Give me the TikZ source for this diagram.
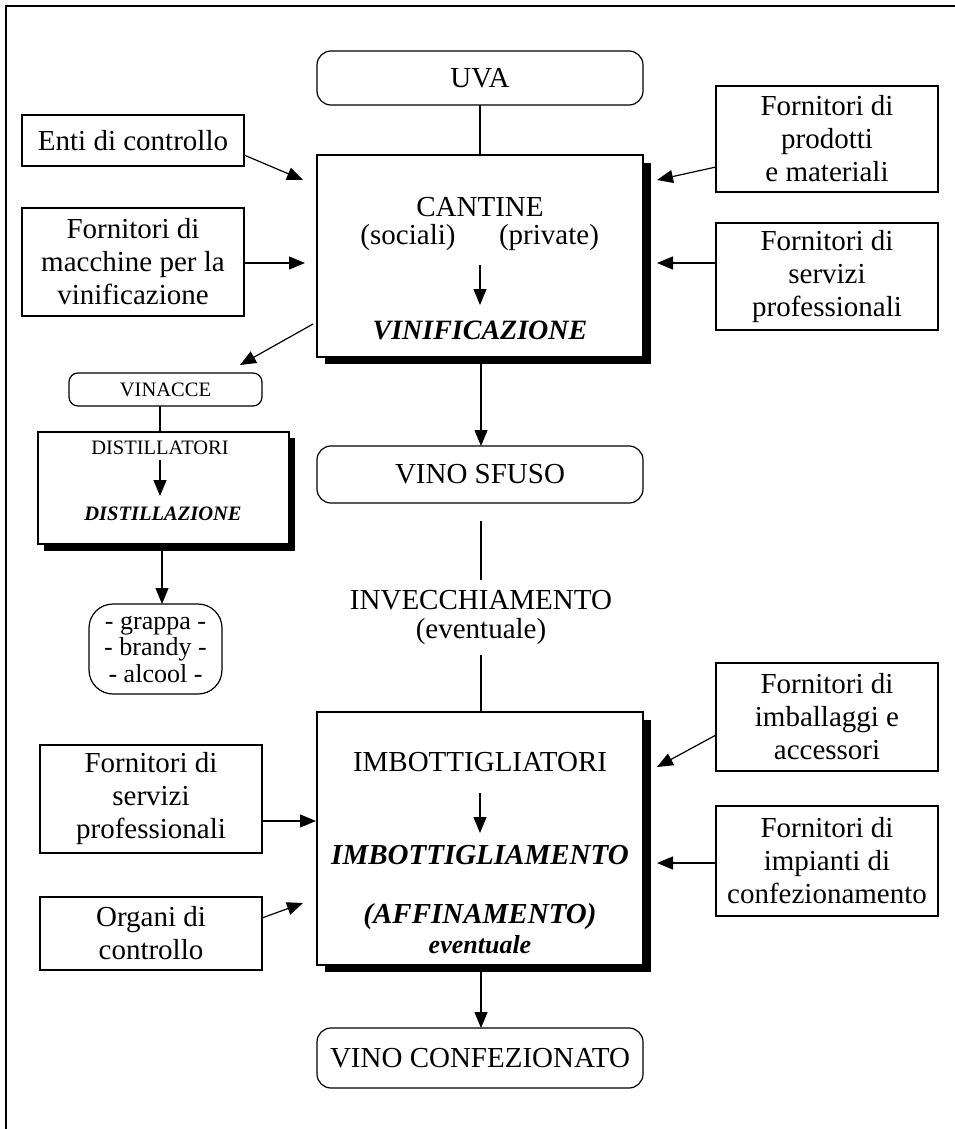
\documentclass[tikz,border=0pt]{standalone}
\usepackage{fontspec}
\setmainfont{Liberation Serif}
\usetikzlibrary{arrows.meta}
\begin{document}
\begin{tikzpicture}[x=1pt,y=-1pt,
  every node/.style={inner sep=0pt, outer sep=0pt},
  txt/.style={font=\fontsize{29}{33}\selectfont, align=center},
  small/.style={font=\fontsize{20.5}{24}\selectfont, align=center},
  boxsq/.style={draw, line width=1.2pt, fill=white, txt},
  boxrnd/.style={draw, line width=1.2pt, rounded corners=14pt, fill=white, txt},
  mainbox/.style={draw, line width=1.2pt, fill=white, minimum width=326pt},
  link/.style={line width=1.2pt},
  arr/.style={line width=1.2pt, -{Triangle[length=16pt,width=13pt]}},
  shadowfill/.style={fill=black}
]
\useasboundingbox (0,0) rectangle (955,1129);
% frame
\draw[line width=1.8pt] (6,1129) -- (6,6) -- (955,6);

% ---------- top: grapes and wineries ----------
\node[boxrnd, minimum width=326pt, minimum height=54pt] (uva) at (480,78) {UVA};

\fill[shadowfill] (325,163) rectangle (651,364);
\node[mainbox, minimum height=202pt] (cantine) at (480,256) {};
\node[txt] (cant) at (480,207) {CANTINE};
\node[txt] (soc) at (408,238) {(sociali)};
\node[txt] (priv) at (549,238) {(private)};
\coordinate (cinA) at (480,265);
\coordinate (cinB) at (480,305);
\draw[arr] (cinA) -- (cinB);
\node[txt, font=\fontsize{28}{33}\selectfont\bfseries\itshape] (vinif) at (480,330) {VINIFICAZIONE};

\draw[link] (uva.south) -- (cantine.north);

\node[boxsq, minimum width=222pt, minimum height=51pt] (enti) at (133,140.5) {Enti di controllo};
\node[boxsq, minimum width=222pt, minimum height=108pt] (macch) at (133,262) {Fornitori di\\macchine per la\\vinificazione};
\node[boxsq, minimum width=222pt, minimum height=106pt] (prod) at (827,139) {Fornitori di\\prodotti\\e materiali};
\node[boxsq, minimum width=222pt, minimum height=107pt] (servR) at (827,276.5) {Fornitori di\\servizi\\professionali};

\coordinate (entiT) at (303,180);
\coordinate (macchT) at (305,263);
\coordinate (prodT) at (657,180);
\coordinate (servRT) at (657,263);
\draw[arr] (enti.east |- 0,155) -- (entiT);
\draw[arr] (macch.east |- 0,263) -- (macchT);
\draw[arr] (prod.west |- 0,167) -- (prodT);
\draw[arr] (servR.west |- 0,263) -- (servRT);

% ---------- pomace and distillation ----------
\node[boxrnd, small, rounded corners=9pt, minimum width=193pt, minimum height=33pt] (vinacce) at (165.5,389.5) {VINACCE};
\coordinate (cantOut) at (313,324);
\coordinate (vinT) at (240,365);
\draw[arr] (cantOut) -- (vinT);

\fill[shadowfill] (44,438) rectangle (295,551);
\node[draw, line width=1.2pt, fill=white, minimum width=251pt, minimum height=112pt] (distill) at (163.5,488) {};
\node[small] (distT) at (160,448) {DISTILLATORI};
\coordinate (dinA) at (160,460);
\coordinate (dinB) at (160,496);
\draw[arr] (dinA) -- (dinB);
\node[small, font=\fontsize{20.5}{24}\selectfont\bfseries\itshape] (distz) at (163,514) {DISTILLAZIONE};
\coordinate (vinB) at (160,406);
\draw[link] (vinB) -- (vinB |- distill.north);

\node[draw, line width=1.2pt, rounded corners=24pt, minimum width=133pt, minimum height=90pt,
      font=\fontsize{26}{26.5}\selectfont, align=center] (spirits) at (155.5,649) {- grappa -\\- brandy -\\- alcool -};
\coordinate (distBot) at (162,551);
\draw[arr] (distBot) -- (spirits.north -| distBot);

% ---------- bulk wine and ageing ----------
\node[boxrnd, minimum width=326pt, minimum height=57pt] (sfuso) at (480,474.5) {VINO SFUSO};
\coordinate (cantBot) at (481,364);
\draw[arr] (cantBot) -- (sfuso.north -| cantBot);

\node[txt] (invec) at (481,600) {INVECCHIAMENTO};
\node[txt] (event) at (481,632) {(eventuale)};
\coordinate (lineA1) at (481,521);
\coordinate (lineA2) at (481,580);
\coordinate (lineB1) at (481,655);
\draw[link] (lineA1) -- (lineA2);

% ---------- bottling ----------
\fill[shadowfill] (325,720) rectangle (651,972);
\node[mainbox, minimum height=253pt] (imbott) at (480,838.5) {};
\draw[link] (lineB1) -- (imbott.north -| lineB1);
\node[txt] (imbT) at (480,762) {IMBOTTIGLIATORI};
\coordinate (iinA) at (480,793);
\coordinate (iinB) at (480,833);
\draw[arr] (iinA) -- (iinB);
\node[txt, font=\fontsize{29}{33}\selectfont\bfseries\itshape] (imbz) at (480,855) {IMBOTTIGLIAMENTO};
\node[txt, font=\fontsize{29}{33}\selectfont\bfseries\itshape] (affin) at (480,917) {(AFFINAMENTO)};
\node[txt, font=\fontsize{26}{30}\selectfont\bfseries\itshape] (event2) at (480,945) {eventuale};

\node[boxsq, minimum width=222pt, minimum height=108pt] (servL) at (151,799) {Fornitori di\\servizi\\professionali};
\node[boxsq, minimum width=222pt, minimum height=73pt] (organi) at (151,933.5) {Organi di\\controllo};
\node[boxsq, minimum width=222pt, minimum height=108pt] (imball) at (827,717) {Fornitori di\\imballaggi e\\accessori};
\node[boxsq, minimum width=222pt, minimum height=110pt] (impian) at (827,861) {Fornitori di\\impianti di\\confezionamento};

\coordinate (servLT) at (316,821);
\coordinate (organiT) at (303,903);
\coordinate (imballT) at (657,767);
\coordinate (impianT) at (657,863);
\draw[arr] (servL.east |- servLT) -- (servLT);
\draw[arr] (organi.east |- 0,918) -- (organiT);
\draw[arr] (imball.west |- 0,735) -- (imballT);
\draw[arr] (impian.west |- impianT) -- (impianT);

\node[boxrnd, minimum width=326pt, minimum height=60pt] (vconf) at (480,1058) {VINO CONFEZIONATO};
\coordinate (imbBot) at (481,972);
\draw[arr] (imbBot) -- (vconf.north -| imbBot);
\end{tikzpicture}
\end{document}
